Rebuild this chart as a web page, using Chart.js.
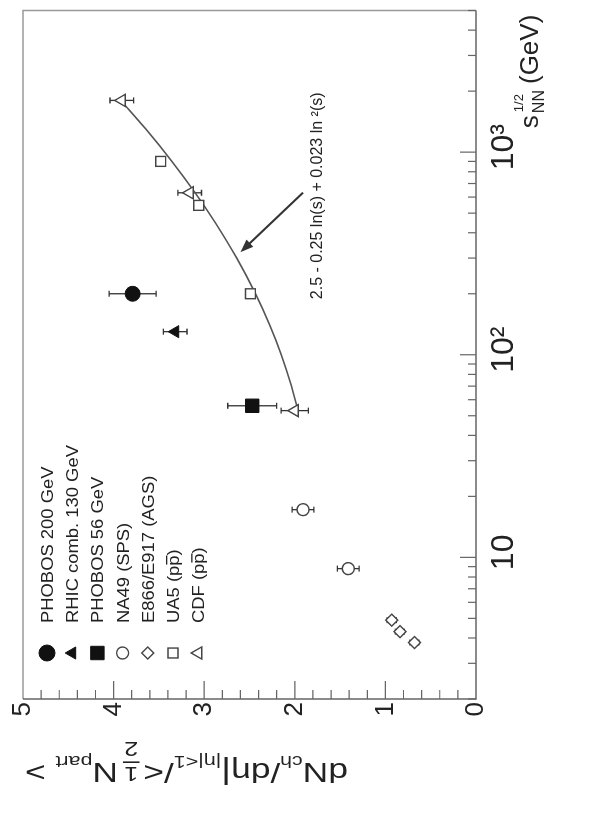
<!DOCTYPE html>
<html>
<head>
<meta charset="utf-8">
<script src="https://cdn.jsdelivr.net/npm/chart.js@4.4.1/dist/chart.umd.min.js"></script>
<style>
  html, body { margin: 0; padding: 0; background: #fff; overflow: hidden; }
  #wrap { position: relative; width: 590px; height: 831px; overflow: hidden; background: #fff; }
  /* the plot is laid out landscape and turned a quarter turn */
  #plot { position: absolute; left: 0; top: 0; transform-origin: 0 0; transform: translate(0px, 831px) rotate(-90deg); }
</style>
</head>
<body>
<div id="wrap"><canvas id="plot" width="831" height="590"></canvas></div>
<script>
// sqrt(s_NN) in GeV, dN/deta per participant pair, error
const phobos200Energy = [200];
const phobos200Value = [3.79];
const phobos200Error = [0.26];

const rhic130Energy = [130];
const rhic130Value = [3.32];
const rhic130Error = [0.13];

const phobos56Energy = [56];
const phobos56Value = [2.47];
const phobos56Error = [0.27];

const na49Energy = [8.8, 17.2];
const na49Value = [1.41, 1.91];
const na49Error = [0.12, 0.12];

const agsEnergy = [3.8, 4.3, 4.9];
const agsValue = [0.68, 0.84, 0.93];
const agsError = [0.05, 0.05, 0.05];

const ua5Energy = [200, 546, 900];
const ua5Value = [2.49, 3.06, 3.48];
const ua5Error = [0, 0, 0];

const cdfEnergy = [53, 630, 1800];
const cdfValue = [2.0, 3.16, 3.91];
const cdfError = [0.15, 0.13, 0.13];

// pp fit: a + b ln(s) + c ln^2(s)
const fitCoeffs = [2.5, -0.25, 0.023];
const fitEnergy = [53, 70, 100, 140, 200, 300, 450, 630, 900, 1300, 1800];

const energyTicks = [10, 100, 1000];
const energyTickLabels = ['10', '10\u00b2', '10\u00b3'];

const legendLabels = [
  'PHOBOS 200 GeV',
  'RHIC comb. 130 GeV',
  'PHOBOS 56 GeV',
  'NA49 (SPS)',
  'E866/E917 (AGS)',
  'UA5 (pp)',
  'CDF (pp)',
];

const FONT = '"Liberation Sans", Arial, Helvetica, sans-serif';
const INK = '#222';

const toPoints = (energy, value) => energy.map((e, i) => ({ x: e, y: value[i] }));

const fitValue = (e) => {
  const ls = Math.log(e * e);
  return fitCoeffs[0] + fitCoeffs[1] * ls + fitCoeffs[2] * ls * ls;
};

const markerSet = (label, energy, value, error, style, radius, filled) => ({
  label,
  data: toPoints(energy, value),
  errors: error,
  pointStyle: style,
  pointRadius: radius,
  pointHoverRadius: radius,
  pointBackgroundColor: filled ? '#111' : '#fff',
  pointBorderColor: filled ? '#111' : '#444',
  pointBorderWidth: filled ? 1 : 1.4,
  showLine: false,
});

const drawMarker = (ctx, style, cx, cy, r, filled) => {
  ctx.beginPath();
  if (style === 'circle') {
    ctx.arc(cx, cy, r, 0, Math.PI * 2);
  } else if (style === 'rect') {
    const h = r * Math.SQRT1_2;
    ctx.rect(cx - h, cy - h, 2 * h, 2 * h);
  } else if (style === 'rectRot') {
    ctx.moveTo(cx, cy - r); ctx.lineTo(cx + r, cy); ctx.lineTo(cx, cy + r); ctx.lineTo(cx - r, cy); ctx.closePath();
  } else {
    for (let k = 0; k < 3; k++) {
      const a = -Math.PI / 2 + k * 2 * Math.PI / 3;
      const px = cx + r * Math.cos(a);
      const py = cy + r * Math.sin(a);
      if (k === 0) ctx.moveTo(px, py); else ctx.lineTo(px, py);
    }
    ctx.closePath();
  }
  ctx.fillStyle = filled ? '#111' : '#fff';
  ctx.fill();
  ctx.lineWidth = filled ? 1 : 1.4;
  ctx.strokeStyle = filled ? '#111' : '#444';
  ctx.stroke();
};

// box, inward log ticks and 0.2 ticks on the value axis
const frame = {
  id: 'frame',
  beforeDatasetsDraw(chart) {
    const { ctx, chartArea: a, scales: { x, y } } = chart;
    ctx.save();
    ctx.lineWidth = 1.5;
    ctx.strokeStyle = '#999';
    ctx.beginPath();
    ctx.moveTo(a.left, a.top); ctx.lineTo(a.right, a.top); ctx.lineTo(a.right, a.bottom);
    ctx.stroke();
    ctx.strokeStyle = '#666';
    ctx.beginPath();
    ctx.moveTo(a.left, a.top); ctx.lineTo(a.left, a.bottom); ctx.lineTo(a.right, a.bottom);
    ctx.stroke();

    ctx.lineWidth = 1.2;
    ctx.beginPath();
    for (let d = 1; d <= 1000; d *= 10) {
      for (let m = 1; m < 10; m++) {
        const e = m * d;
        if (e < x.min || e > x.max) continue;
        const px = x.getPixelForValue(e);
        ctx.moveTo(px, a.bottom);
        ctx.lineTo(px, a.bottom - (m === 1 ? 16 : 8));
      }
    }
    for (let i = 1; i < 25; i++) {
      const py = y.getPixelForValue(i / 5);
      ctx.moveTo(a.left, py);
      ctx.lineTo(a.left + (i % 5 === 0 ? 18 : 9), py);
    }
    ctx.stroke();
    ctx.restore();
  },
};

const errorBars = {
  id: 'errorBars',
  beforeDatasetsDraw(chart) {
    const { ctx, scales: { x, y } } = chart;
    ctx.save();
    ctx.strokeStyle = '#333';
    ctx.lineWidth = 1.3;
    chart.data.datasets.forEach((ds) => {
      if (!ds.errors) return;
      ds.data.forEach((p, i) => {
        const err = ds.errors[i];
        if (!err) return;
        const px = x.getPixelForValue(p.x);
        const hi = y.getPixelForValue(p.y + err);
        const lo = y.getPixelForValue(p.y - err);
        ctx.beginPath();
        ctx.moveTo(px, hi); ctx.lineTo(px, lo);
        ctx.moveTo(px - 3, hi); ctx.lineTo(px + 3, hi);
        ctx.moveTo(px - 3, lo); ctx.lineTo(px + 3, lo);
        ctx.stroke();
      });
    });
    ctx.restore();
  },
};

// draws a run of text pieces with sub/superscripts, optionally stretched to a width
const drawRich = (ctx, parts, targetWidth) => {
  let total = 0;
  parts.forEach((p) => {
    ctx.font = `${p.weight || ''} ${p.size}px ${FONT}`;
    if (p.frac) {
      p.w = Math.max(ctx.measureText(p.frac[0]).width, ctx.measureText(p.frac[1]).width) + 4;
    } else {
      p.w = ctx.measureText(p.t).width;
    }
    total += p.w + (p.gap || 0);
  });
  const k = targetWidth ? targetWidth / total : 1;
  ctx.save();
  ctx.scale(k, 1);
  let cx = 0;
  parts.forEach((p) => {
    ctx.font = `${p.weight || ''} ${p.size}px ${FONT}`;
    if (p.frac) {
      ctx.textAlign = 'center';
      ctx.fillText(p.frac[0], cx + p.w / 2, p.dy - 4);
      ctx.fillText(p.frac[1], cx + p.w / 2, p.dy + 21);
      ctx.fillRect(cx + 1, p.dy, p.w - 2, 1.6);
      ctx.textAlign = 'left';
    } else {
      ctx.fillText(p.t, cx, p.dy || 0);
    }
    cx += p.w + (p.gap || 0);
  });
  ctx.restore();
};

const annotations = {
  id: 'annotations',
  afterDraw(chart) {
    const { ctx, chartArea: a, scales: { x, y } } = chart;
    ctx.save();
    ctx.fillStyle = INK;
    ctx.textBaseline = 'alphabetic';
    ctx.textAlign = 'left';

    // fit formula and arrow
    ctx.font = `16px ${FONT}`;
    ctx.textBaseline = 'middle';
    ctx.fillText('2.5 - 0.25 ln(s) + 0.023 ln \u00b2(s)', x.getPixelForValue(188), y.getPixelForValue(1.75));
    const tx = x.getPixelForValue(631), ty = y.getPixelForValue(1.91);
    const hx = x.getPixelForValue(321), hy = y.getPixelForValue(2.6);
    const ang = Math.atan2(hy - ty, hx - tx);
    ctx.strokeStyle = '#333';
    ctx.lineWidth = 2;
    ctx.beginPath();
    ctx.moveTo(tx, ty);
    ctx.lineTo(hx - 8 * Math.cos(ang), hy - 8 * Math.sin(ang));
    ctx.stroke();
    ctx.fillStyle = '#333';
    ctx.beginPath();
    ctx.moveTo(hx, hy);
    ctx.lineTo(hx - 13 * Math.cos(ang) + 5 * Math.sin(ang), hy - 13 * Math.sin(ang) - 5 * Math.cos(ang));
    ctx.lineTo(hx - 13 * Math.cos(ang) - 5 * Math.sin(ang), hy - 13 * Math.sin(ang) + 5 * Math.cos(ang));
    ctx.closePath();
    ctx.fill();

    // legend
    ctx.fillStyle = INK;
    ctx.textBaseline = 'alphabetic';
    const markers = chart.data.datasets.filter((ds) => ds.errors);
    markers.forEach((ds, i) => {
      const rowY = a.top + 24 + i * 25.2;
      const r = ds.pointStyle === 'circle' && ds.pointBackgroundColor === '#111' ? 8 : ds.pointRadius;
      drawMarker(ctx, ds.pointStyle, a.left + 46, rowY, r, ds.pointBackgroundColor === '#111');
      ctx.save();
      ctx.translate(a.left + 76, rowY + 6);
      ctx.scale(1.15, 1);
      ctx.font = `16px ${FONT}`;
      ctx.fillStyle = INK;
      const text = legendLabels[i];
      ctx.fillText(text, 0, 0);
      if (text.endsWith('(pp)')) {
        const x0 = ctx.measureText(text.slice(0, -2)).width;
        const w = ctx.measureText('p').width;
        ctx.fillRect(x0 + 1, -13, w - 1, 1.3);
      }
      ctx.restore();
    });

    // value axis title, read upward
    ctx.save();
    ctx.translate(68, 348);
    ctx.rotate(-Math.PI / 2);
    ctx.fillStyle = INK;
    drawRich(ctx, [
      { t: 'dN', size: 28 },
      { t: 'ch', size: 17, dy: 7 },
      { t: '/d\u03b7', size: 28 },
      { t: '|', size: 30 },
      { t: '|\u03b7|<1', size: 17, dy: 7 },
      { t: '/<', size: 28, gap: 2 },
      { frac: ['1', '2'], size: 20, dy: 0, gap: 3 },
      { t: 'N', size: 28 },
      { t: 'part', size: 17, dy: 7 },
      { t: ' >', size: 28 },
    ], 323);
    ctx.restore();

    // energy axis title
    ctx.save();
    ctx.translate(x.getPixelForValue(1000) + 24, 538);
    ctx.fillStyle = INK;
    ctx.font = `26px ${FONT}`;
    ctx.fillText('s', 0, 0);
    const sw = ctx.measureText('s').width;
    ctx.font = `16px ${FONT}`;
    ctx.fillText('NN', sw + 2, 6);
    ctx.font = `13px ${FONT}`;
    ctx.fillText('1/2', sw + 3, -15);
    ctx.font = `16px ${FONT}`;
    const nw = ctx.measureText('NN').width;
    ctx.font = `26px ${FONT}`;
    ctx.fillText('(GeV)', sw + nw + 8, 0);
    ctx.restore();

    ctx.restore();
  },
};

const datasets = [
  markerSet('PHOBOS 200 GeV', phobos200Energy, phobos200Value, phobos200Error, 'circle', 7.5, true),
  markerSet('RHIC comb. 130 GeV', rhic130Energy, rhic130Value, rhic130Error, 'triangle', 7, true),
  markerSet('PHOBOS 56 GeV', phobos56Energy, phobos56Value, phobos56Error, 'rect', 9.5, true),
  markerSet('NA49 (SPS)', na49Energy, na49Value, na49Error, 'circle', 6, false),
  markerSet('E866/E917 (AGS)', agsEnergy, agsValue, agsError, 'rectRot', 6, false),
  markerSet('UA5 (pp)', ua5Energy, ua5Value, ua5Error, 'rect', 7, false),
  markerSet('CDF (pp)', cdfEnergy, cdfValue, cdfError, 'triangle', 7, false),
  {
    label: 'fit',
    data: toPoints(fitEnergy, fitEnergy.map(fitValue)),
    showLine: true,
    borderColor: '#555',
    borderWidth: 1.6,
    pointRadius: 0,
    tension: 0.3,
  },
];

// keep the plot box fixed: no extra room for the outer tick labels
const fixPadding = (scale) => {
  scale.paddingLeft = 0;
  scale.paddingRight = 0;
};

new Chart(document.getElementById('plot'), {
  type: 'scatter',
  data: { datasets },
  options: {
    responsive: false,
    animation: false,
    devicePixelRatio: 1,
    layout: { padding: { top: 23, right: 4, left: 0, bottom: 0 } },
    plugins: { legend: { display: false }, tooltip: { enabled: false } },
    scales: {
      x: {
        type: 'logarithmic',
        min: 2,
        max: 5000,
        position: 'bottom',
        grid: { display: false, drawTicks: false },
        border: { display: false },
        afterBuildTicks: (scale) => {
          scale.ticks = energyTicks.map((v) => ({ value: v, major: true }));
        },
        afterFit: (scale) => { scale.height = 114; fixPadding(scale); },
        ticks: {
          callback: (v) => energyTickLabels[energyTicks.indexOf(v)] || '',
          font: { size: 32, family: FONT },
          color: INK,
          padding: 9,
          maxRotation: 0,
          autoSkip: false,
          labelOffset: 5,
        },
      },
      y: {
        min: 0,
        max: 5,
        grid: { display: false, drawTicks: false },
        border: { display: false },
        afterFit: (scale) => { scale.width = 132; },
        ticks: { stepSize: 1, font: { size: 26, family: FONT }, color: INK, padding: 3 },
      },
    },
  },
  plugins: [frame, errorBars, annotations],
});
</script>
</body>
</html>
